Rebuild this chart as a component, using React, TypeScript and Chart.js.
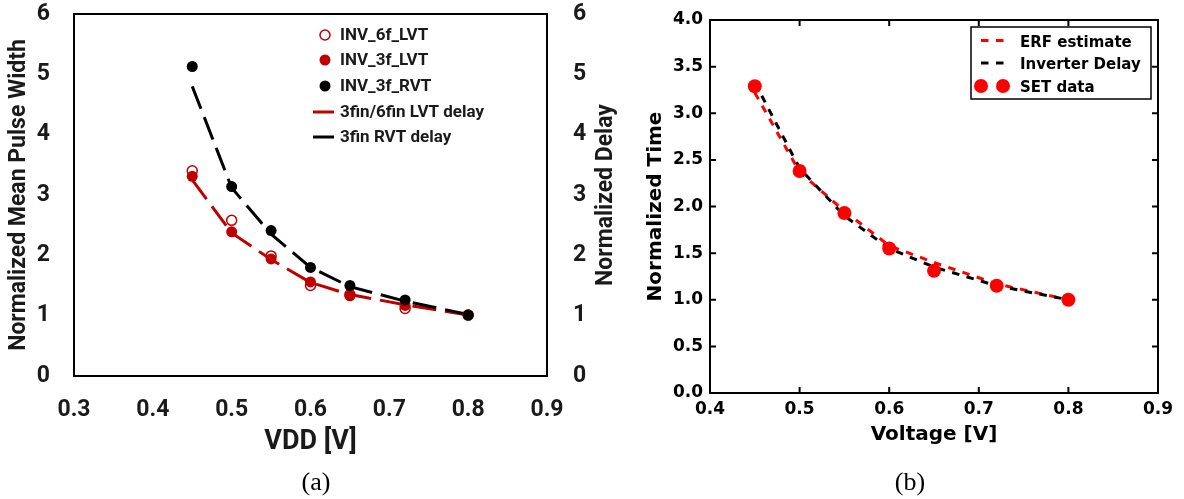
import React, { useEffect, useRef } from "react";
import { Chart, registerables } from "chart.js";

Chart.register(...registerables);

// ---------------- (a) data ----------------
const vddA = [0.45, 0.5, 0.55, 0.6, 0.65, 0.72, 0.8];
const inv6fLvt = [3.4, 2.58, 1.99, 1.5, 1.35, 1.12, 1.01];
const inv3fLvt = [3.31, 2.39, 1.94, 1.56, 1.33, 1.17, 1.01];
const inv3fRvt = [5.13, 3.14, 2.41, 1.8, 1.5, 1.26, 1.01];
const lvtDelay = [3.25, 2.37, 1.93, 1.55, 1.35, 1.18, 1.01];
const rvtDelay = [4.8, 3.12, 2.35, 1.8, 1.48, 1.24, 1.02];
const xTicksA = [0.3, 0.4, 0.5, 0.6, 0.7, 0.8, 0.9];
const yTicksA = [0, 1, 2, 3, 4, 5, 6];

// ---------------- (b) data ----------------
const voltB = [0.45, 0.5, 0.55, 0.6, 0.65, 0.72, 0.8];
const setData = [3.29, 2.38, 1.93, 1.55, 1.31, 1.15, 1.0];
const erfEstimate = [3.22, 2.37, 1.95, 1.58, 1.4, 1.17, 1.0];
const inverterDelay = [3.33, 2.41, 1.9, 1.55, 1.35, 1.15, 1.0];
const xTicksB = [0.4, 0.5, 0.6, 0.7, 0.8, 0.9];
const yTicksB = [0, 0.5, 1, 1.5, 2, 2.5, 3, 3.5, 4];

const FA = 'Roboto, "Liberation Sans", sans-serif';
const FB = '"DejaVu Sans", sans-serif';
const RED_A = "#C00000";
const RED_B = "#FF0000";
const TXT_A = "#1a1a1a";

const pts = (xs: number[], ys: number[]) => xs.map((x, i) => ({ x, y: ys[i] }));

const noPad = (s: any) => {
  s.paddingTop = 0;
  s.paddingBottom = 0;
  s.paddingLeft = 0;
  s.paddingRight = 0;
};

function ChartA() {
  const ref = useRef<HTMLCanvasElement>(null);
  useEffect(() => {
    const el = ref.current!;
    const decor = {
      id: "decorA",
      afterDraw(chart: any) {
        const { ctx, chartArea: a } = chart;
        ctx.save();
        ctx.strokeStyle = "#000";
        ctx.lineWidth = 2;
        ctx.setLineDash([]);
        ctx.strokeRect(a.left, a.top, a.right - a.left, a.bottom - a.top);

        // legend
        const entries = [
          { kind: "open", color: RED_A, y: 35, label: "INV_6f_LVT" },
          { kind: "dot", color: RED_A, y: 60, label: "INV_3f_LVT" },
          { kind: "dot", color: "#000", y: 86, label: "INV_3f_RVT" },
          { kind: "line", color: RED_A, y: 112, label: "3fin/6fin LVT delay" },
          { kind: "line", color: "#000", y: 137, label: "3fin RVT delay" },
        ];
        ctx.font = `bold 17px ${FA}`;
        ctx.textBaseline = "middle";
        ctx.textAlign = "left";
        entries.forEach((e) => {
          if (e.kind === "open") {
            ctx.beginPath();
            ctx.arc(325, e.y, 5, 0, Math.PI * 2);
            ctx.lineWidth = 1.5;
            ctx.strokeStyle = e.color;
            ctx.stroke();
          } else if (e.kind === "dot") {
            ctx.beginPath();
            ctx.arc(325, e.y, 5.5, 0, Math.PI * 2);
            ctx.fillStyle = e.color;
            ctx.fill();
          } else {
            ctx.beginPath();
            ctx.moveTo(313, e.y);
            ctx.lineTo(334, e.y);
            ctx.lineWidth = 3;
            ctx.strokeStyle = e.color;
            ctx.stroke();
          }
          ctx.fillStyle = TXT_A;
          ctx.fillText(e.label, 340, e.y + 1);
        });

        // right axis title (rotated like the left one)
        ctx.save();
        ctx.translate(606, (a.top + a.bottom) / 2);
        ctx.rotate(-Math.PI / 2);
        ctx.font = `bold 23px ${FA}`;
        ctx.textAlign = "center";
        ctx.textBaseline = "middle";
        ctx.fillStyle = TXT_A;
        ctx.fillText("Normalized Delay", 0, 0);
        ctx.restore();
        ctx.restore();
      },
    };

    const tickFont = { family: FA, size: 23, weight: "bold" as const };
    const chart = new Chart(el, {
      type: "line",
      data: {
        datasets: [
          {
            label: "INV_3f_RVT",
            data: pts(vddA, inv3fRvt),
            showLine: false,
            pointRadius: 5.5,
            pointBackgroundColor: "#000",
            pointBorderColor: "#000",
            pointBorderWidth: 0,
            order: 0,
          },
          {
            label: "INV_3f_LVT",
            data: pts(vddA, inv3fLvt),
            showLine: false,
            pointRadius: 5.5,
            pointBackgroundColor: RED_A,
            pointBorderColor: RED_A,
            pointBorderWidth: 0,
            order: 1,
          },
          {
            label: "INV_6f_LVT",
            data: pts(vddA, inv6fLvt),
            showLine: false,
            pointRadius: 5,
            pointBackgroundColor: "rgba(255,255,255,0)",
            pointBorderColor: RED_A,
            pointBorderWidth: 1.5,
            order: 2,
          },
          {
            label: "3fin RVT delay",
            data: pts(vddA, rvtDelay),
            borderColor: "#000",
            borderWidth: 3,
            borderDash: [24, 9],
            pointRadius: 0,
            order: 3,
          },
          {
            label: "3fin/6fin LVT delay",
            data: pts(vddA, lvtDelay),
            borderColor: RED_A,
            borderWidth: 3,
            borderDash: [24, 9],
            pointRadius: 0,
            order: 4,
          },
        ],
      },
      options: {
        animation: false,
        responsive: false,
        devicePixelRatio: 1,
        layout: { padding: { top: 14, left: 0, right: 0, bottom: 0 } },
        plugins: { legend: { display: false }, tooltip: { enabled: false } },
        scales: {
          x: {
            type: "linear",
            min: 0.3,
            max: 0.9,
            afterBuildTicks: (s: any) => {
              s.ticks = xTicksA.map((v) => ({ value: v }));
            },
            ticks: {
              callback: (v: any) => Number(v).toFixed(1),
              font: tickFont,
              color: TXT_A,
              padding: 20,
              maxRotation: 0,
              autoSkip: false,
            },
            grid: { display: false, drawTicks: false },
            border: { display: false },
            title: {
              display: true,
              text: "VDD [V]",
              font: { family: FA, size: 27, weight: "bold" },
              color: TXT_A,
              padding: { top: 0, bottom: 41 },
            },
            afterFit: (s: any) => {
              s.height = 123;
              noPad(s);
            },
          },
          y: {
            type: "linear",
            position: "left",
            min: 0,
            max: 6,
            afterBuildTicks: (s: any) => {
              s.ticks = yTicksA.map((v) => ({ value: v }));
            },
            ticks: { callback: (v: any) => String(v), font: tickFont, color: TXT_A, padding: 24 },
            grid: { display: false, drawTicks: false },
            border: { display: false },
            title: {
              display: true,
              text: "Normalized Mean Pulse Width",
              font: { family: FA, size: 23, weight: "bold" },
              color: TXT_A,
              padding: { top: 5, bottom: 0 },
            },
            afterFit: (s: any) => {
              s.width = 74;
              noPad(s);
            },
          },
          y2: {
            type: "linear",
            position: "right",
            min: 0,
            max: 6,
            afterBuildTicks: (s: any) => {
              s.ticks = yTicksA.map((v) => ({ value: v }));
            },
            ticks: { callback: (v: any) => String(v), font: tickFont, color: TXT_A, padding: 26 },
            grid: { display: false, drawTicks: false },
            border: { display: false },
            afterFit: (s: any) => {
              s.width = 93;
              noPad(s);
            },
          },
        },
      } as any,
      plugins: [decor],
    });
    return () => chart.destroy();
  }, []);
  return (
    <canvas
      ref={ref}
      width={640}
      height={499}
      style={{ position: "absolute", left: 0, top: 0, width: 640, height: 499 }}
    />
  );
}

function ChartB() {
  const ref = useRef<HTMLCanvasElement>(null);
  useEffect(() => {
    const el = ref.current!;
    const decor = {
      id: "decorB",
      afterDraw(chart: any) {
        const { ctx, chartArea: a, scales } = chart;
        const sx = scales.x;
        const sy = scales.y;
        ctx.save();
        ctx.setLineDash([]);
        ctx.strokeStyle = "#000";
        ctx.lineWidth = 2;
        ctx.beginPath();
        xTicksB.forEach((v) => {
          const p = sx.getPixelForValue(v);
          ctx.moveTo(p, a.bottom);
          ctx.lineTo(p, a.bottom - 6);
          ctx.moveTo(p, a.top);
          ctx.lineTo(p, a.top + 6);
        });
        yTicksB.forEach((v) => {
          const p = sy.getPixelForValue(v);
          ctx.moveTo(a.left, p);
          ctx.lineTo(a.left + 6, p);
          ctx.moveTo(a.right, p);
          ctx.lineTo(a.right - 6, p);
        });
        ctx.stroke();
        ctx.strokeRect(a.left, a.top, a.right - a.left, a.bottom - a.top);

        // legend box
        ctx.fillStyle = "#fff";
        ctx.fillRect(371, 27, 180, 72);
        ctx.lineWidth = 1.5;
        ctx.strokeRect(371, 27, 180, 72);

        ctx.lineWidth = 3;
        ctx.setLineDash([7.5, 7.5]);
        ctx.strokeStyle = RED_B;
        ctx.beginPath();
        ctx.moveTo(381, 40.5);
        ctx.lineTo(404, 40.5);
        ctx.stroke();
        ctx.strokeStyle = "#000";
        ctx.beginPath();
        ctx.moveTo(381, 63);
        ctx.lineTo(404, 63);
        ctx.stroke();
        ctx.setLineDash([]);
        ctx.fillStyle = RED_B;
        [381, 403].forEach((cx) => {
          ctx.beginPath();
          ctx.arc(cx, 86, 7, 0, Math.PI * 2);
          ctx.fill();
        });

        ctx.fillStyle = "#000";
        ctx.font = `bold 15px ${FB}`;
        ctx.textAlign = "left";
        ctx.textBaseline = "alphabetic";
        ctx.fillText("ERF estimate", 420, 46.5);
        ctx.fillText("Inverter Delay", 420, 69);
        ctx.fillText("SET data", 420, 91.5);
        ctx.restore();
      },
    };

    const tickFont = { family: FB, size: 17, weight: "bold" as const };
    const chart = new Chart(el, {
      type: "line",
      data: {
        datasets: [
          {
            label: "SET data",
            data: pts(voltB, setData),
            showLine: false,
            pointRadius: 7,
            pointBackgroundColor: RED_B,
            pointBorderColor: RED_B,
            pointBorderWidth: 0,
            order: 0,
          },
          {
            label: "Inverter Delay",
            data: pts(voltB, inverterDelay),
            borderColor: "#000",
            borderWidth: 3,
            borderDash: [7.5, 7.5],
            pointRadius: 0,
            order: 1,
          },
          {
            label: "ERF estimate",
            data: pts(voltB, erfEstimate),
            borderColor: RED_B,
            borderWidth: 3,
            borderDash: [7.5, 7.5],
            pointRadius: 0,
            order: 2,
          },
        ],
      },
      options: {
        animation: false,
        responsive: false,
        devicePixelRatio: 1,
        layout: { padding: { top: 20, left: 0, right: 26, bottom: 0 } },
        plugins: { legend: { display: false }, tooltip: { enabled: false } },
        scales: {
          x: {
            type: "linear",
            min: 0.4,
            max: 0.9,
            afterBuildTicks: (s: any) => {
              s.ticks = xTicksB.map((v) => ({ value: v }));
            },
            ticks: {
              callback: (v: any) => Number(v).toFixed(1),
              font: tickFont,
              color: "#000",
              padding: 6,
              maxRotation: 0,
              autoSkip: false,
            },
            grid: { display: false, drawTicks: false },
            border: { display: false },
            title: {
              display: true,
              text: "Voltage [V]",
              font: { family: FB, size: 20, weight: "bold" },
              color: "#000",
              padding: { top: 0, bottom: 52 },
            },
            afterFit: (s: any) => {
              s.height = 106;
              noPad(s);
            },
          },
          y: {
            type: "linear",
            position: "left",
            min: 0,
            max: 4,
            afterBuildTicks: (s: any) => {
              s.ticks = yTicksB.map((v) => ({ value: v }));
            },
            ticks: {
              callback: (v: any) => Number(v).toFixed(1),
              font: tickFont,
              color: "#000",
              padding: 7,
              autoSkip: false,
            },
            grid: { display: false, drawTicks: false },
            border: { display: false },
            title: {
              display: true,
              text: "Normalized Time",
              font: { family: FB, size: 20, weight: "bold" },
              color: "#000",
              padding: { top: 43.5, bottom: 0 },
            },
            afterFit: (s: any) => {
              s.width = 110;
              noPad(s);
            },
          },
        },
      } as any,
      plugins: [decor],
    });
    return () => chart.destroy();
  }, []);
  return (
    <canvas
      ref={ref}
      width={584}
      height={499}
      style={{ position: "absolute", left: 600, top: 0, width: 584, height: 499 }}
    />
  );
}

const captionStyle: React.CSSProperties = {
  position: "absolute",
  top: 467,
  width: 100,
  height: 30,
  lineHeight: "30px",
  textAlign: "center",
  fontFamily: '"Liberation Serif", "DejaVu Serif", serif',
  fontSize: 26,
  color: "#000",
};

export default function App() {
  return (
    <div
      style={{
        position: "fixed",
        left: 0,
        top: 0,
        width: 1184,
        height: 499,
        background: "#fff",
        overflow: "hidden",
      }}
    >
      <ChartA />
      <ChartB />
      <div style={{ ...captionStyle, left: 266 }}>(a)</div>
      <div style={{ ...captionStyle, left: 860 }}>(b)</div>
    </div>
  );
}
